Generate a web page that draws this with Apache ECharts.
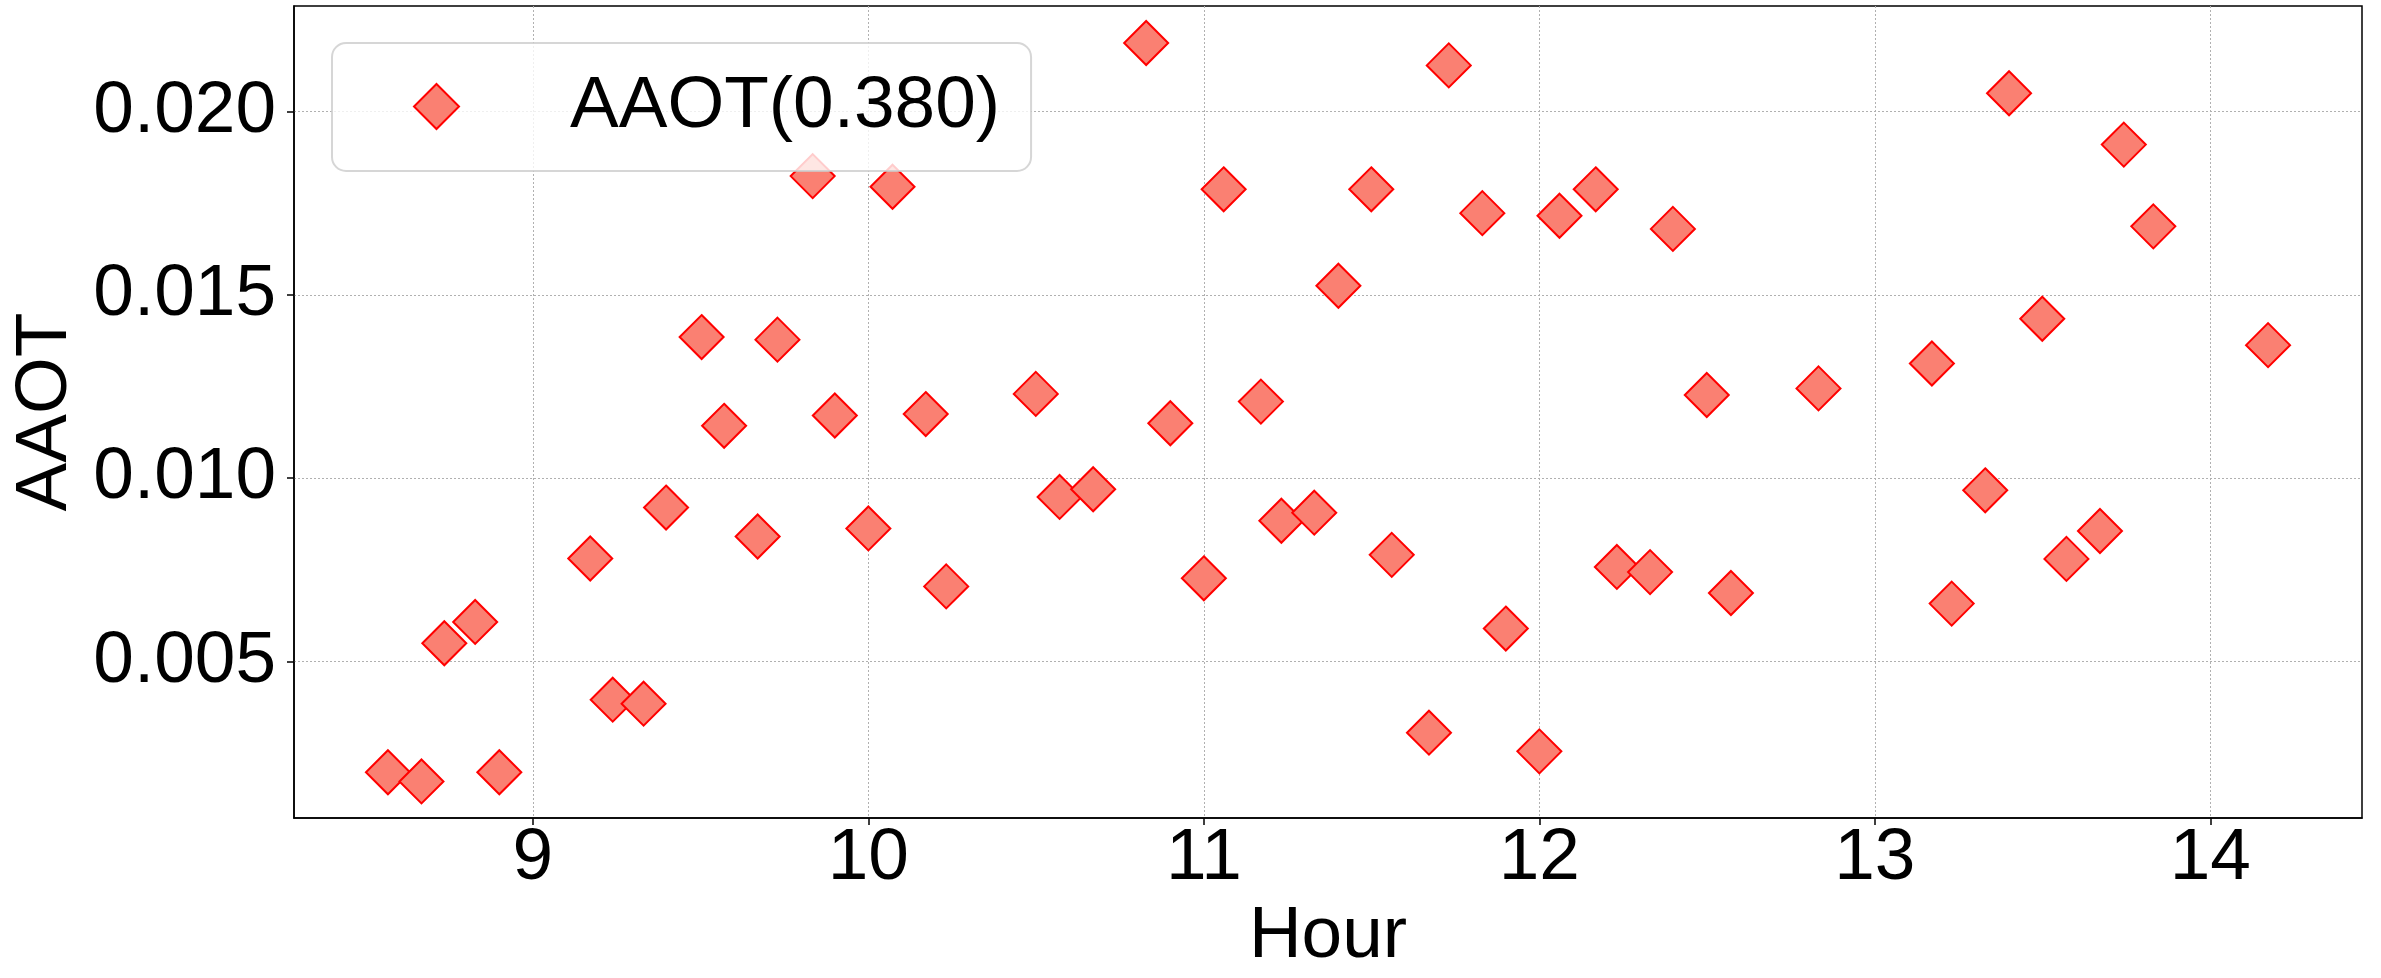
<!DOCTYPE html>
<html>
<head>
<meta charset="utf-8">
<script src="https://cdn.jsdelivr.net/npm/echarts@6/dist/echarts.min.js"></script>
<style>
html,body{margin:0;padding:0;background:#fff;}
#chart{width:2381px;height:978px;}
</style>
</head>
<body>
<div id="chart"></div>
<script>
// Data
const hours = [8.568, 8.668, 8.736, 8.828, 8.900, 9.171, 9.238, 9.330, 9.397, 9.503, 9.570, 9.670, 9.729, 9.834, 9.900, 10.000, 10.072, 10.171, 10.232, 10.499, 10.570, 10.670, 10.828, 10.900, 11.000, 11.059, 11.170, 11.231, 11.329, 11.401, 11.499, 11.560, 11.671, 11.730, 11.830, 11.900, 12.000, 12.060, 12.168, 12.231, 12.330, 12.398, 12.499, 12.571, 12.832, 13.170, 13.229, 13.329, 13.400, 13.499, 13.571, 13.671, 13.742, 13.830, 14.172];
const aaot = [0.00198, 0.00173, 0.00550, 0.00608, 0.00198, 0.00781, 0.00396, 0.00385, 0.00920, 0.01385, 0.01143, 0.00841, 0.01378, 0.01824, 0.01171, 0.00863, 0.01795, 0.01175, 0.00705, 0.01230, 0.00949, 0.00970, 0.02187, 0.01150, 0.00727, 0.01788, 0.01209, 0.00884, 0.00906, 0.01525, 0.01788, 0.00791, 0.00306, 0.02126, 0.01723, 0.00590, 0.00255, 0.01716, 0.01788, 0.00758, 0.00744, 0.01680, 0.01227, 0.00687, 0.01245, 0.01313, 0.00658, 0.00967, 0.02050, 0.01435, 0.00780, 0.00856, 0.01910, 0.01687, 0.01363];
const xTicks = [9, 10, 11, 12, 13, 14];
const yTicks = [0.005, 0.010, 0.015, 0.020];
const seriesName = 'AAOT(0.380)';
const xName = 'Hour';
const yName = 'AAOT';

const FONT = 'Liberation Sans, Arial, Helvetica, sans-serif';
const FS = 73;

const chart = echarts.init(document.getElementById('chart'), null, {renderer: 'canvas'});
const points = hours.map((h, i) => [h, aaot[i]]);

const option = {
  backgroundColor: '#ffffff',
  animation: false,
  grid: {
    left: 294, right: 19, top: 6, bottom: 151,
    show: true, borderColor: '#000', borderWidth: 1.5, backgroundColor: 'transparent'
  },
  legend: {
    show: true,
    left: 332, top: 43,
    orient: 'horizontal',
    itemWidth: 45, itemHeight: 45,
    padding: [27, 31, 28, 81],
    backgroundColor: 'rgba(255,255,255,0.8)',
    borderColor: 'rgba(204,204,204,0.8)',
    borderWidth: 2,
    borderRadius: 14,
    textStyle: {
      fontFamily: FONT, fontSize: FS, color: '#000', lineHeight: FS,
      padding: [0, 0, 0, 106]
    },
    data: [{name: seriesName, icon: 'diamond'}]
  },
  xAxis: {
    type: 'value',
    min: 8.288, max: 14.452,
    name: xName,
    nameLocation: 'middle',
    nameGap: 78,
    nameTextStyle: {fontFamily: FONT, fontSize: FS, color: '#000', lineHeight: FS},
    axisLine: {show: true, onZero: false, lineStyle: {color: '#000', width: 1.5}},
    axisTick: {show: true, inside: false, length: 7, lineStyle: {color: '#000', width: 1.5}, customValues: xTicks},
    axisLabel: {show: true, margin: 4, fontFamily: FONT, fontSize: FS, color: '#000', lineHeight: FS, customValues: xTicks,
      formatter: v => String(Math.round(v))},
    splitLine: {show: true, lineStyle: {color: '#b0b0b0', width: 1, type: [2, 2]}}
  },
  yAxis: {
    type: 'value',
    min: 0.00073, max: 0.02288,
    name: yName,
    nameLocation: 'middle',
    nameGap: 205,
    nameRotate: 90,
    nameTextStyle: {fontFamily: FONT, fontSize: FS, color: '#000', lineHeight: FS},
    axisLine: {show: true, onZero: false, lineStyle: {color: '#000', width: 1.5}},
    axisTick: {show: true, inside: false, length: 7, lineStyle: {color: '#000', width: 1.5}, customValues: yTicks},
    axisLabel: {show: true, margin: 18, fontFamily: FONT, fontSize: FS, color: '#000', lineHeight: FS, customValues: yTicks,
      formatter: v => v.toFixed(3)},
    splitLine: {show: true, lineStyle: {color: '#b0b0b0', width: 1, type: [2, 2]}}
  },
  series: [{
    name: seriesName,
    type: 'scatter',
    symbol: 'diamond',
    symbolSize: 44,
    data: points,
    itemStyle: {color: '#FA8072', borderColor: '#FF0000', borderWidth: 2, opacity: 1},
    emphasis: {disabled: true}
  }]
};
chart.setOption(option);
</script>
</body>
</html>
